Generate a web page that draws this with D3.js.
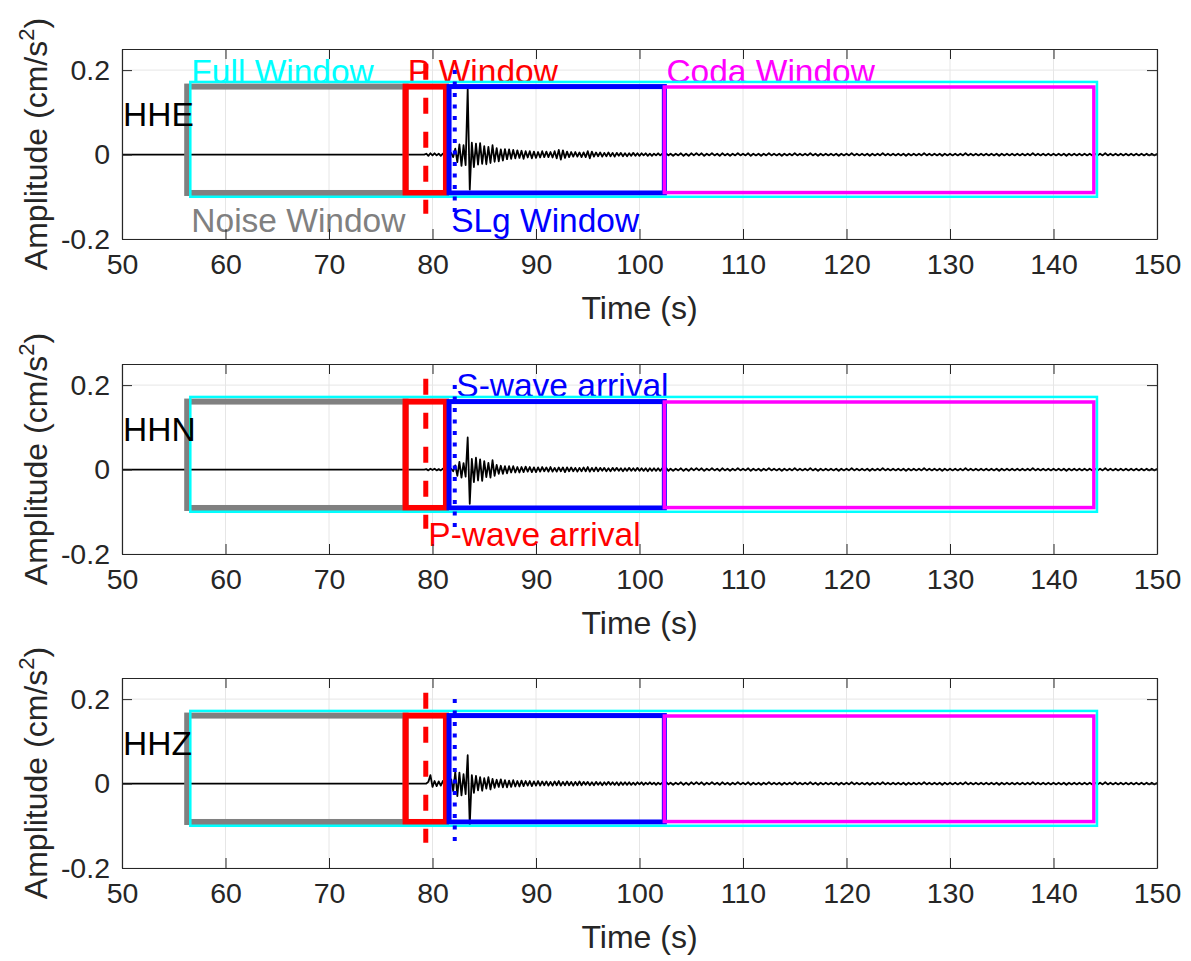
<!DOCTYPE html>
<html>
<head>
<meta charset="utf-8">
<script src="https://cdn.jsdelivr.net/npm/d3@7"></script>
<style>
  body { margin: 0; background: #fff; }
  svg text { font-family: "Liberation Sans", Arial, Helvetica, sans-serif; }
</style>
</head>
<body>
<svg id="chart" width="1191" height="961"></svg>
<script>
// ---- data ----
const channels = ["HHE", "HHN", "HHZ"];

// trace samples, 0.2 s apart starting at 79.0 s, in units of 0.001 cm/s^2
const sampleStart = 79.0;
const sampleStep = 0.2;
const hheMilli = [0,0,2,-3,3,-2,3,-2,2,-3, 2,-2,3,-3,4,-6,14,-18,24,-27,
  22,-25,155,-83,28,-30,26,-24,27,-22, 20,-23,18,-20,22,-17,15,-16,12,-14,
  13,-11,12,-10,11,-9,10,-8,9,-10, 8,-7,8,-9,7,-8,6,-7,8,-6,
  7,-6,6,-7,8,-9,11,-12,10,-8, 7,-6,6,-5,6,-5,5,-6,5,-6,
  8,-9,7,-5,5,-4,5,-5,4,-4, 5,-4,4,-5,4,-3,4,-4,3,-4,
  3,-3,4,-3,3,-3,3,-2,3,-3, 2,-3,2,-2,3,-2,2,-3,2,-2, 2];
const hhnMilli = [0,0,1,-2,2,-1,2,-2,1,-2, 2,-1,2,-2,2,-4,10,-15,18,-19,
  15,-17,76,-81,25,-30,28,-26,24,-27, 20,-18,16,-19,22,-15,11,-10,9,-10,
  8,-9,8,-7,8,-7,6,-7,6,-6, 7,-5,6,-6,5,-6,5,-5,6,-4,
  5,-5,6,-5,4,-5,5,-4,5,-6, 5,-4,5,-4,4,-5,4,-4,5,-4,
  6,-5,4,-4,5,-4,4,-3,4,-4, 3,-4,4,-3,4,-3,3,-4,3,-3,
  4,-3,3,-3,4,-3,3,-3,3,-4, 3,-3,3,-3,3,-3,3,-3,3,-3, 2];
const hhzMilli = [0,0,0,4,20,-8,6,-6,5,-5, 6,-4,5,-6,10,-18,28,-30,26,-28,
  22,-25,67,-98,20,-22,18,-16,15,-17, 13,-12,15,-14,11,-10,9,-8,10,-9,
  8,-9,7,-8,8,-7,6,-7,7,-6, 6,-5,6,-6,5,-5,6,-5,5,-4,
  5,-5,4,-5,5,-4,6,-5,4,-4, 5,-4,4,-5,4,-4,5,-4,4,-3,
  4,-4,3,-4,4,-3,3,-4,3,-3, 4,-3,3,-3,3,-4,3,-3,3,-3,
  3,-3,2,-3,3,-2,3,-3,2,-2, 3,-2,2,-3,2,-2,2,-2,3,-2, 2];
const traceMilli = [hheMilli, hhnMilli, hhzMilli];

// late coda noise, 0.25 s apart starting at 103.25 s (same level on all channels)
const tailStart = 103.25;
const tailStep = 0.25;
const tailMilli = [
  -3,2,-2,3,-3,2,-3,3,-2,3, -2,3,-3,2,-2,3,-2,2,-3,3,
  -2,2,-3,2,-2,3,-2,2,-2,3, -3,2,-2,2,-3,2,-2,3,-2,2,
  -2,2,-3,2,-2,2,-2,3,-2,2, -2,2,-2,3,-2,2,-3,2,-2,2,
  -2,2,-2,2,-3,2,-2,2,-2,3, -2,2,-2,2,-2,2,-3,2,-2,2,
  -2,3,-2,2,-2,2,-2,2,-2,2, -3,2,-2,2,-2,2,-2,3,-2,2,
  -2,2,-2,2,-3,2,-2,2,-2,2, -2,2,-2,3,-2,2,-2,2,-2,2,
  -2,2,-2,2,-2,2,-3,2,-2,2, -2,2,-2,2,-2,2,-2,2,-2,3,
  -2,2,-2,2,-2,2,-2,2,-2,2, -2,2,-3,2,-2,2,-2,2,-2,2,
  -2,2,-2,2,-2,2,-2,3,-2,2, -2,2,-2,2,-2,2,-2,2,-2,2,
  -2,2,-2,2,-2,2,-2,2];

// analysis windows (s, cm/s^2)
const windowNames  = ["Noise Window", "P Window", "SLg Window", "Coda Window", "Full Window"];
const windowStart  = [56.3, 77.4, 81.6, 102.4, 56.6];
const windowEnd    = [77.4, 81.3, 102.4, 143.9, 144.2];
const windowTop    = [0.161, 0.161, 0.161, 0.16, 0.172];
const windowBottom = [-0.091, -0.091, -0.091, -0.09, -0.1];

// phase picks (s)
const pArrival = 79.35;
const sArrival = 82.15;

// annotation texts: panel index, position in data units
const noteText  = ["Full Window", "P Window", "Coda Window", "Noise Window", "SLg Window", "S-wave arrival", "P-wave arrival"];
const notePanel = [0, 0, 0, 0, 0, 1, 1];
const noteX     = [56.7, 77.6, 102.6, 56.7, 81.8, 82.3, 79.6];
const noteY     = [0.169, 0.169, 0.169, -0.183, -0.183, 0.171, -0.18];

const xTicks = [50, 60, 70, 80, 90, 100, 110, 120, 130, 140, 150];
const yTicks = [-0.2, 0, 0.2];

// ---- styles ----
const windowColor = {
  "Full Window": "#00ffff", "Noise Window": "#808080", "P Window": "#ff0000",
  "SLg Window": "#0000ff", "Coda Window": "#ff00ff"
};
const windowWidth = {
  "Full Window": 2.5, "Noise Window": 6, "P Window": 6,
  "SLg Window": 5, "Coda Window": 3.5
};
const noteColor = {
  "Full Window": "#00ffff", "Noise Window": "#808080", "P Window": "#ff0000",
  "SLg Window": "#0000ff", "Coda Window": "#ff00ff",
  "S-wave arrival": "#0000ff", "P-wave arrival": "#ff0000"
};
const axisColor = "#262626";

const svg = d3.select("#chart");
const left = 122, right = 1157, panelH = 190;
const panelTops = [49, 364, 678];

const x = d3.scaleLinear().domain([50, 150]).range([left, right]);

channels.forEach((name, i) => {
  const top = panelTops[i];
  const y = d3.scaleLinear().domain([-0.2, 0.25]).range([top + panelH, top]);
  const g = svg.append("g");

  const clipId = "clip" + i;
  g.append("clipPath").attr("id", clipId)
    .append("rect").attr("x", left).attr("y", top).attr("width", right - left).attr("height", panelH);

  // grid
  g.append("g").selectAll("line").data(xTicks).join("line")
    .attr("x1", d => x(d)).attr("x2", d => x(d))
    .attr("y1", top).attr("y2", top + panelH)
    .attr("stroke", "#e6e6e6").attr("stroke-width", 1);
  g.append("g").selectAll("line").data(yTicks).join("line")
    .attr("x1", left).attr("x2", right)
    .attr("y1", d => y(d)).attr("y2", d => y(d))
    .attr("stroke", "#e6e6e6").attr("stroke-width", 1);

  const plot = g.append("g").attr("clip-path", `url(#${clipId})`);

  // waveform
  const pts = [[50, 0]];
  traceMilli[i].forEach((v, k) => pts.push([sampleStart + k * sampleStep, v / 1000]));
  tailMilli.forEach((v, k) => pts.push([tailStart + k * tailStep, v / 1000]));
  const line = d3.line().x(d => x(d[0])).y(d => y(d[1]));
  plot.append("path").datum(pts)
    .attr("d", line)
    .attr("fill", "none")
    .attr("stroke", "#000")
    .attr("stroke-width", 1.8)
    .attr("stroke-linejoin", "round");

  // annotations
  noteText.forEach((t, k) => {
    if (notePanel[k] !== i) return;
    plot.append("text")
      .attr("x", x(noteX[k])).attr("y", y(noteY[k]))
      .attr("font-size", 33.5).attr("fill", noteColor[t])
      .text(t);
  });

  // windows
  windowNames.forEach((w, k) => {
    plot.append("rect")
      .attr("x", x(windowStart[k]))
      .attr("y", y(windowTop[k]))
      .attr("width", x(windowEnd[k]) - x(windowStart[k]))
      .attr("height", y(windowBottom[k]) - y(windowTop[k]))
      .attr("fill", "none")
      .attr("stroke", windowColor[w])
      .attr("stroke-width", windowWidth[w]);
  });

  // arrival picks
  plot.append("line")
    .attr("x1", x(pArrival)).attr("x2", x(pArrival))
    .attr("y1", y(0.215)).attr("y2", y(-0.14))
    .attr("stroke", "#ff0000").attr("stroke-width", 5)
    .attr("stroke-dasharray", "16,18");
  plot.append("line")
    .attr("x1", x(sArrival)).attr("x2", x(sArrival))
    .attr("y1", y(0.2)).attr("y2", y(-0.14))
    .attr("stroke", "#0000ff").attr("stroke-width", 4)
    .attr("stroke-dasharray", "4,7.5");

  // channel name sits on top of the window edges
  plot.append("text")
    .attr("x", x(50.1)).attr("y", y(0.067))
    .attr("font-size", 33.5).attr("fill", "#000")
    .text(name);

  // axes (box with inward ticks)
  const fmtY = d => d === 0 ? "0" : d3.format(".1f")(d).replace("−", "-");
  const axB = g.append("g").attr("transform", `translate(0,${top + panelH})`)
    .call(d3.axisBottom(x).tickValues(xTicks).tickSizeInner(-10).tickSizeOuter(0).tickPadding(15));
  const axT = g.append("g").attr("transform", `translate(0,${top})`)
    .call(d3.axisTop(x).tickValues(xTicks).tickSizeInner(-10).tickSizeOuter(0).tickFormat(""));
  const axL = g.append("g").attr("transform", `translate(${left},0)`)
    .call(d3.axisLeft(y).tickValues(yTicks).tickSizeInner(-10).tickSizeOuter(0).tickPadding(12).tickFormat(fmtY));
  const axR = g.append("g").attr("transform", `translate(${right},0)`)
    .call(d3.axisRight(y).tickValues(yTicks).tickSizeInner(-10).tickSizeOuter(0).tickFormat(""));
  [axB, axT, axL, axR].forEach(a => {
    a.select(".domain").attr("stroke", axisColor).attr("stroke-width", 1.2);
    a.selectAll(".tick line").attr("stroke", axisColor).attr("stroke-width", 1);
    a.selectAll(".tick text").attr("fill", axisColor)
      .attr("font-size", 28.5)
      .attr("font-family", '"Liberation Sans", Arial, sans-serif');
  });

  // axis labels
  g.append("text")
    .attr("x", (left + right) / 2).attr("y", top + panelH + 80)
    .attr("text-anchor", "middle").attr("font-size", 32).attr("fill", axisColor)
    .text("Time (s)");
  const yl = g.append("text")
    .attr("transform", `translate(47,${top + panelH / 2}) rotate(-90)`)
    .attr("text-anchor", "middle").attr("font-size", 32).attr("fill", axisColor);
  yl.append("tspan").text("Amplitude (cm/s");
  yl.append("tspan").attr("font-size", 22).attr("dy", -13).text("2");
  yl.append("tspan").attr("dy", 13).text(")");
});
</script>
</body>
</html>
